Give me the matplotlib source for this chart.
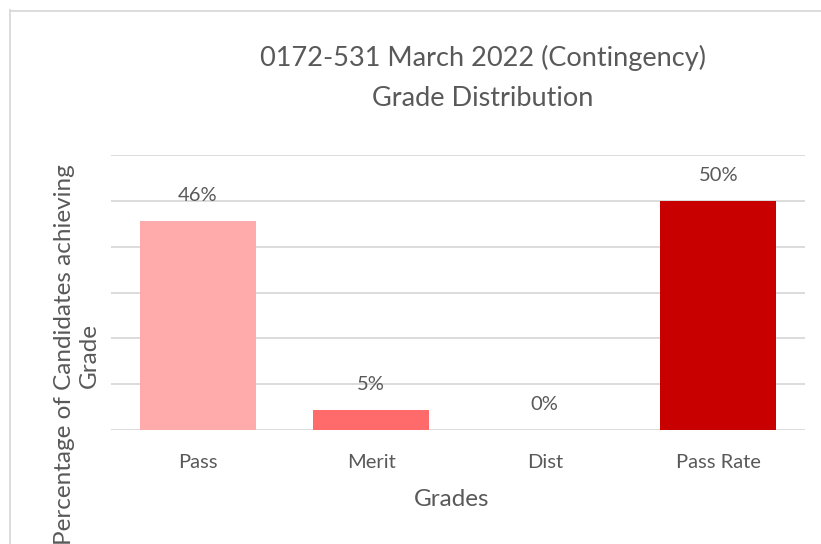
import numpy as np
import matplotlib.pyplot as plt
from matplotlib.lines import Line2D
from matplotlib.ticker import MultipleLocator

# grade data (fractions of candidates)
grades = ['Pass', 'Merit', 'Dist', 'Pass Rate']
values = [0.456, 0.044, 0.0, 0.50]
labels = ['46%', '5%', '0%', '50%']
colors = ['#FFABAB', '#FF6B6B', '#FFABAB', '#C80000']

plt.rcParams['font.family'] = ['Lato', 'DejaVu Sans']
txt = '#595959'
grid = '#D9D9D9'

fig = plt.figure(figsize=(8.21, 5.44), dpi=100)
W, H = 821, 544
ax = fig.add_axes([111 / W, 1 - 430 / H, (805 - 111) / W, (430 - 155) / H])

x = np.arange(len(grades))
ax.bar(x, values, width=0.67, color=colors, zorder=3)
for xi, v, lab in zip(x, values, labels):
    ax.annotate(lab, (xi, v), xytext=(0, 18), textcoords='offset points',
                ha='center', va='center', fontsize=14.5, color=txt)

ax.set_xlim(-0.5, len(grades) - 0.5)
ax.set_ylim(0, 0.6)
ax.yaxis.set_major_locator(MultipleLocator(0.1))
ax.grid(axis='y', color=grid, linewidth=1.3, zorder=0)
ax.set_yticklabels([])
ax.tick_params(axis='y', length=0)
ax.tick_params(axis='x', length=0, pad=17, labelsize=14.5, labelcolor=txt)
ax.set_xticks(x)
ax.set_xticklabels(grades)
for s in ax.spines.values():
    s.set_visible(False)

fig.text(452 / W, 1 - 500 / H, 'Grades', ha='center', va='center',
         fontsize=17.5, color=txt)
fig.text(77 / W, 1 - 355 / H, 'Percentage of Candidates achieving\nGrade',
         rotation=90, ha='center', va='center', fontsize=17.5, color=txt,
         linespacing=1.25)

fig.text(483 / W, 1 - 58 / H, '0172-531 March 2022 (Contingency)', ha='center',
         va='center', fontsize=19.5, color=txt)
fig.text(483 / W, 1 - 98 / H, 'Grade Distribution', ha='center',
         va='center', fontsize=19.5, color=txt)

# chart frame border (left and top edges visible)
fig.add_artist(Line2D([9.5 / W, 9.5 / W], [0, 1 - 10 / H], color=grid, lw=1.3))
fig.add_artist(Line2D([9.5 / W, 1], [1 - 10.5 / H, 1 - 10.5 / H], color=grid, lw=1.3))

fig.savefig('out.png', dpi=100)
